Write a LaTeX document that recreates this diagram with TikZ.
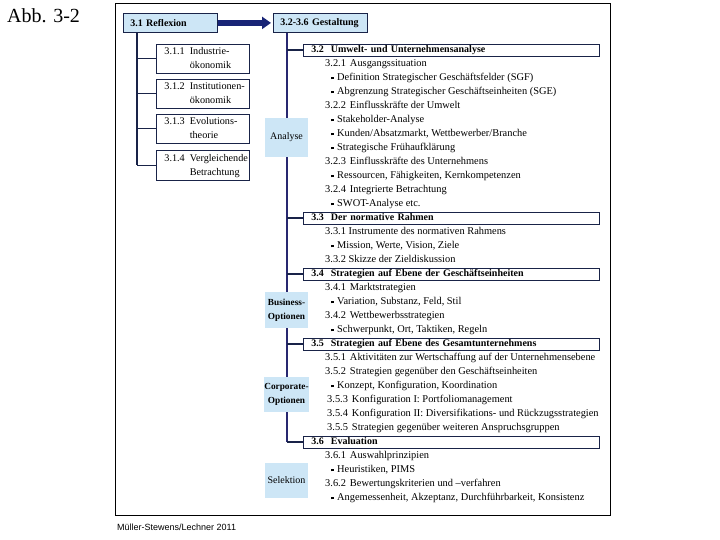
\documentclass[tikz,border=0pt]{standalone}
\usepackage{fontspec}
\setmainfont{Liberation Serif}
\setsansfont{Liberation Sans}
\usetikzlibrary{arrows.meta}
\definecolor{navy}{RGB}{24,36,118}
\definecolor{vline}{RGB}{40,40,112}
\definecolor{lblue}{RGB}{205,230,246}
\definecolor{edgec}{RGB}{25,35,72}
\newcommand{\bul}{\rule[0.2ex]{0.6ex}{0.6ex}\hspace{0.3em}}
\begin{document}
\begin{tikzpicture}[x=1pt,y=-1pt,
  txt/.style={anchor=west, inner sep=0pt, font=\fontsize{10.4}{12}\selectfont, text height=6.8pt, text depth=2pt},
  topbox/.style={draw=edgec, fill=lblue, line width=0.8pt, anchor=north west, minimum width=94pt, minimum height=19pt, inner xsep=7pt, inner ysep=0pt, text width=80pt, align=left, font=\fontsize{10}{12}\selectfont\bfseries},
  subbox/.style={draw=edgec, fill=white, line width=0.8pt, anchor=north west, minimum width=93pt, inner xsep=8pt, inner ysep=0pt, text width=77pt, align=left, font=\fontsize{10.2}{14}\selectfont},
  secbox/.style={draw=edgec, fill=white, line width=0.8pt, anchor=west, minimum width=296pt, minimum height=12pt, inner xsep=8pt, inner ysep=0pt, text width=280pt, align=left, font=\fontsize{10}{12}\selectfont\bfseries, text height=6.8pt, text depth=2pt},
  optbox/.style={fill=lblue, minimum width=43pt, inner sep=0pt, align=center, font=\fontsize{10}{14}\selectfont},
  conn/.style={draw=edgec, line width=1.1pt},
  rconn/.style={draw=vline, line width=2.2pt}
]
\useasboundingbox (0,0) rectangle (720,540);
\node[anchor=base west, inner sep=0pt, font=\fontsize{20}{22}\selectfont] (abb) at (7,23) {Abb. 3-2};
\node[draw=black, line width=1.1pt, anchor=north west, minimum width=495pt, minimum height=512pt, inner sep=0pt] (frame) at (115,3) {};

% top boxes and arrow
\node[topbox] (refl) at (123,13) {3.1 Reflexion};
\node[topbox] (gest) at (273,13) {3.2-3.6 Gestaltung};
\draw[navy, line width=6pt, -{Triangle[length=9pt,width=12pt]}, shorten >=2pt] (refl.east) -- (gest.west);

% sub boxes 3.1.x
\node[subbox, minimum height=29pt] (s1) at (156,44) {\begin{tabular}{@{}l@{\hspace{5pt}}l@{}}3.1.1 & Industrie-\\ & ökonomik\end{tabular}};
\node[subbox, minimum height=29pt] (s2) at (156,79) {\begin{tabular}{@{}l@{\hspace{5pt}}l@{}}3.1.2 & Institutionen-\\ & ökonomik\end{tabular}};
\node[subbox, minimum height=29pt] (s3) at (156,114) {\begin{tabular}{@{}l@{\hspace{5pt}}l@{}}3.1.3 & Evolutions-\\ & theorie\end{tabular}};
\node[subbox, minimum height=30pt] (s4) at (156,150) {\begin{tabular}{@{}l@{\hspace{5pt}}l@{}}3.1.4 & Vergleichende\\ & Betrachtung\end{tabular}};

% section boxes
\node[secbox] (h32) at (303,50) {3.2\hspace{7pt}Umwelt- und Unternehmensanalyse};
\node[secbox] (h33) at (303,218) {3.3\hspace{7pt}Der normative Rahmen};
\node[secbox] (h34) at (303,274) {3.4\hspace{7pt}Strategien auf Ebene der Geschäftseinheiten};
\node[secbox] (h35) at (303,344) {3.5\hspace{7pt}Strategien auf Ebene des Gesamtunternehmens};
\node[secbox] (h36) at (303,442) {3.6\hspace{7pt}Evaluation};

% left connectors
\coordinate (ltop) at ([xshift=14pt]refl.south west);
\draw[conn] (ltop) -- (ltop |- s4.west);
\draw[conn] (ltop |- s1.west) -- (s1.west);
\draw[conn] (ltop |- s2.west) -- (s2.west);
\draw[conn] (ltop |- s3.west) -- (s3.west);
\draw[conn] (ltop |- s4.west) -- (s4.west);

% right connectors
\coordinate (rtop) at ([xshift=14pt]gest.south west);
\draw[rconn] (rtop) -- (rtop |- h36.west);
\draw[conn] (rtop |- h32.west) -- (h32.west);
\draw[conn] (rtop |- h33.west) -- (h33.west);
\draw[conn] (rtop |- h34.west) -- (h34.west);
\draw[conn] (rtop |- h35.west) -- (h35.west);
\draw[conn] (rtop |- h36.west) -- (h36.west);

% option boxes
\node[optbox, minimum height=39pt] (ana) at (286.5,137.5) {Analyse};
\node[optbox, minimum height=36pt, font=\fontsize{9.3}{14}\selectfont\bfseries] (bus) at (286.5,310) {Business-\\Optionen};
\node[optbox, minimum height=35pt, font=\fontsize{9.3}{14}\selectfont\bfseries] (corp) at (286.5,394.5) {Corporate-\\Optionen};
\node[optbox, minimum height=35pt] (sel) at (286.5,480.5) {Selektion};

% text lines
\node[txt] (l1) at (325,64) {3.2.1\hspace{4pt}Ausgangssituation};
\node[txt] (l2) at (331,78) {\bul Definition Strategischer Geschäftsfelder (SGF)};
\node[txt] (l3) at (331,92) {\bul Abgrenzung Strategischer Geschäftseinheiten (SGE)};
\node[txt] (l4) at (325,106) {3.2.2\hspace{4pt}Einflusskräfte der Umwelt};
\node[txt] (l5) at (331,120) {\bul Stakeholder-Analyse};
\node[txt] (l6) at (331,134) {\bul Kunden/Absatzmarkt, Wettbewerber/Branche};
\node[txt] (l7) at (331,148) {\bul Strategische Frühaufklärung};
\node[txt] (l8) at (325,162) {3.2.3\hspace{4pt}Einflusskräfte des Unternehmens};
\node[txt] (l9) at (331,176) {\bul Ressourcen, Fähigkeiten, Kernkompetenzen};
\node[txt] (l10) at (325,190) {3.2.4\hspace{4pt}Integrierte Betrachtung};
\node[txt] (l11) at (331,204) {\bul SWOT-Analyse etc.};
\node[txt] (l13) at (325,232) {3.3.1 Instrumente des normativen Rahmens};
\node[txt] (l14) at (331,246) {\bul Mission, Werte, Vision, Ziele};
\node[txt] (l15) at (325,260) {3.3.2 Skizze der Zieldiskussion};
\node[txt] (l17) at (325,288) {3.4.1\hspace{4pt}Marktstrategien};
\node[txt] (l18) at (331,302) {\bul Variation, Substanz, Feld, Stil};
\node[txt] (l19) at (325,316) {3.4.2\hspace{4pt}Wettbewerbsstrategien};
\node[txt] (l20) at (331,330) {\bul Schwerpunkt, Ort, Taktiken, Regeln};
\node[txt] (l22) at (325,358) {3.5.1\hspace{4pt}Aktivitäten zur Wertschaffung auf der Unternehmensebene};
\node[txt] (l23) at (325,372) {3.5.2\hspace{4pt}Strategien gegenüber den Geschäftseinheiten};
\node[txt] (l24) at (331,386) {\bul Konzept, Konfiguration, Koordination};
\node[txt] (l25) at (327,400) {3.5.3\hspace{4pt}Konfiguration I: Portfoliomanagement};
\node[txt] (l26) at (327,414) {3.5.4\hspace{4pt}Konfiguration II: Diversifikations- und Rückzugsstrategien};
\node[txt] (l27) at (327,428) {3.5.5\hspace{4pt}Strategien gegenüber weiteren Anspruchsgruppen};
\node[txt] (l29) at (325,456) {3.6.1\hspace{4pt}Auswahlprinzipien};
\node[txt] (l30) at (331,470) {\bul Heuristiken, PIMS};
\node[txt] (l31) at (325,484) {3.6.2\hspace{4pt}Bewertungskriterien und –verfahren};
\node[txt] (l32) at (331,498) {\bul Angemessenheit, Akzeptanz, Durchführbarkeit, Konsistenz};

% footer
\node[anchor=base west, inner sep=0pt, font=\sffamily\fontsize{9}{11}\selectfont] (src) at (117,530) {Müller-Stewens/Lechner 2011};
\end{tikzpicture}
\end{document}
